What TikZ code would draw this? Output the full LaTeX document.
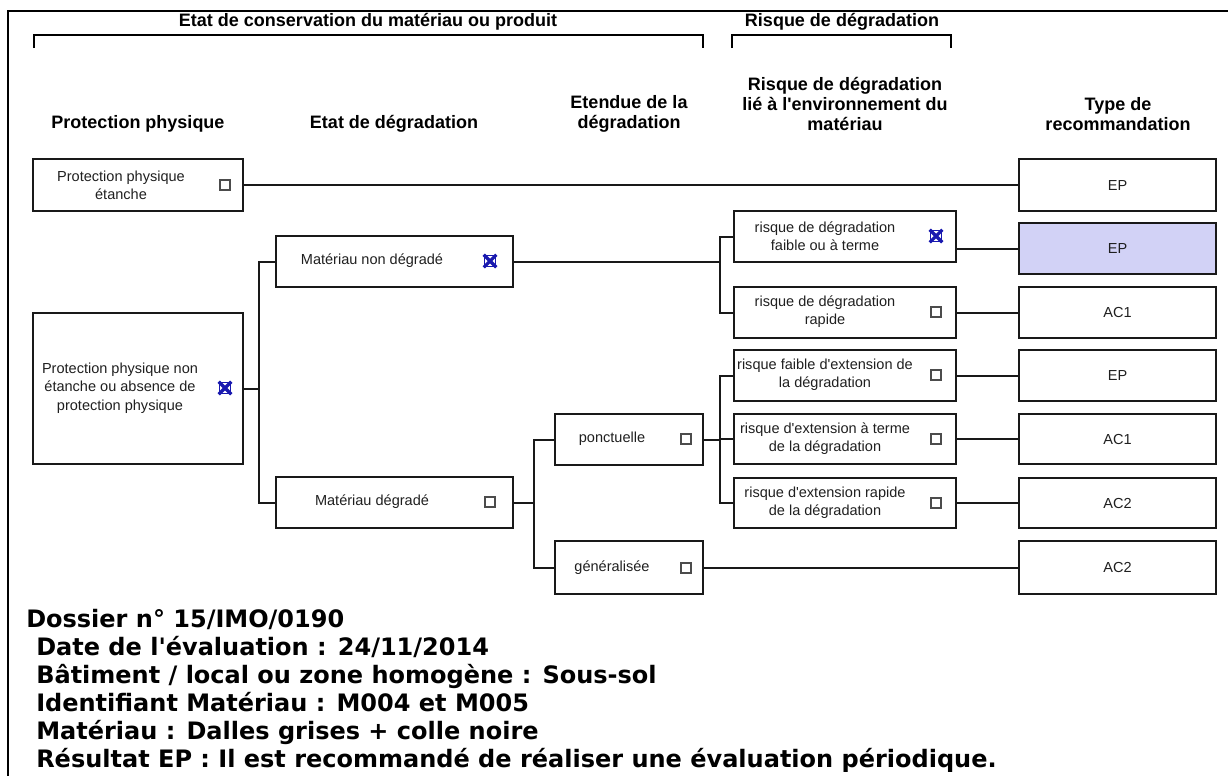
\documentclass[tikz,border=0pt]{standalone}
\usepackage{fontspec}
\setmainfont{Liberation Sans}
\newfontfamily\verdfont{DejaVu Sans}
\definecolor{epfill}{RGB}{210,210,246}
\definecolor{xblue}{RGB}{25,25,175}
\tikzset{
 px/.style={x=0.75pt,y=-0.75pt},
 box/.style={draw=black!90, line width=1.5pt, rectangle, inner sep=0pt},
 conn/.style={draw=black!90, line width=1.5pt},
 btxt/.style={inner sep=0pt, align=center, text=black!88, font=\fontsize{10.9pt}{13.7pt}\selectfont},
 hdr/.style={inner sep=0pt, align=center, font=\fontsize{13.5pt}{15pt}\selectfont\bfseries},
 cbox/.style={draw=black!70, line width=0.9pt, minimum size=7.5pt, inner sep=0pt, rectangle},
 cxbox/.style={draw=xblue, line width=1pt, minimum size=8.5pt, inner sep=0pt, rectangle},
 xmark/.style={draw=xblue, line width=2.4pt},
 foot/.style={anchor=base west, inner sep=0pt, font=\verdfont\bfseries\fontsize{18pt}{21pt}\selectfont},
 brack/.style={draw=black, line width=1.6pt},
 frame/.style={draw=black, line width=2.2pt},
}
\newcommand\mkbox[6][]{\node[box,#1,minimum width=#5*0.75pt,minimum height=#6*0.75pt] (#2) at (#3,#4) {};}
\begin{document}
\begin{tikzpicture}[px]
\useasboundingbox (0,0) rectangle (1228,776);
% frame
\coordinate (fTL) at (8,11); \coordinate (fTR) at (1228,11); \coordinate (fBL) at (8,776);
\draw[frame] (fTR) -- (fTL) -- (fBL);
% brackets
\coordinate (b1a) at (34,48); \coordinate (b1b) at (34,35); \coordinate (b1c) at (703,35); \coordinate (b1d) at (703,48);
\coordinate (b2a) at (732,48); \coordinate (b2b) at (732,35); \coordinate (b2c) at (951,35); \coordinate (b2d) at (951,48);
\draw[brack] (b1a) -- (b1b) -- (b1c) -- (b1d);
\draw[brack] (b2a) -- (b2b) -- (b2c) -- (b2d);
% headers
\node[hdr] (h1) at (368,22) {Etat de conservation du matériau ou produit};
\node[hdr] (h2) at (842,22) {Risque de dégradation};
\node[hdr] (c1h) at (138,124) {Protection physique};
\node[hdr] (c2h) at (394,124) {Etat de dégradation};
\node[hdr] (c3h) at (629,114) {Etendue de la\\dégradation};
\node[hdr] (c4h) at (845,104) {Risque de dégradation\\lié à l\textquotesingle environnement du\\matériau};
\node[hdr] (c5h) at (1118,114) {Type de\\recommandation};
% boxes
\mkbox{ppe}{138}{185}{210}{52}
\mkbox{ppne}{138}{388.5}{210}{151}
\mkbox{mnd}{394.5}{261.5}{237}{51}
\mkbox{md}{394.5}{502.5}{237}{51}
\mkbox{po}{629}{439.5}{148}{51}
\mkbox{ge}{629}{567.5}{148}{53}
\mkbox{rf}{845}{236.5}{222}{51}
\mkbox{rr}{845}{312.5}{222}{51}
\mkbox{rfe}{845}{375.5}{222}{51}
\mkbox{ret}{845}{439}{222}{50}
\mkbox{rer}{845}{503}{222}{50}
\mkbox{t1}{1117.5}{185}{197}{52}
\mkbox[fill=epfill]{t2}{1117.5}{248.5}{197}{51}
\mkbox{t3}{1117.5}{312.5}{197}{51}
\mkbox{t4}{1117.5}{375.5}{197}{51}
\mkbox{t5}{1117.5}{439}{197}{50}
\mkbox{t6}{1117.5}{503}{197}{50}
\mkbox{t7}{1117.5}{567.5}{197}{53}
% box texts
\node[btxt] (ppe-t) at (121,185) {Protection physique\\étanche};
\node[btxt] (ppne-t) at (120,388) {Protection physique non\\étanche ou absence de\\protection physique};
\node[btxt] (mnd-t) at (372,261) {Matériau non dégradé};
\node[btxt] (md-t) at (372,502) {Matériau dégradé};
\node[btxt] (po-t) at (612,439) {ponctuelle};
\node[btxt] (ge-t) at (612,568) {généralisée};
\node[btxt] (rf-t) at (825,236) {risque de dégradation\\faible ou à terme};
\node[btxt] (rr-t) at (825,312) {risque de dégradation\\rapide};
\node[btxt] (rfe-t) at (825,375) {risque faible d\textquotesingle extension de\\la dégradation};
\node[btxt] (ret-t) at (825,439) {risque d\textquotesingle extension à terme\\de la dégradation};
\node[btxt] (rer-t) at (825,503) {risque d\textquotesingle extension rapide\\de la dégradation};
\node[btxt] (t1-t) at (t1) {EP};
\node[btxt] (t2-t) at (t2) {EP};
\node[btxt] (t3-t) at (t3) {AC1};
\node[btxt] (t4-t) at (t4) {EP};
\node[btxt] (t5-t) at (t5) {AC1};
\node[btxt] (t6-t) at (t6) {AC2};
\node[btxt] (t7-t) at (t7) {AC2};
% checkboxes
\node[cbox] (ppe-c) at (225,185) {};
\node[cbox] (md-c) at (490,502) {};
\node[cbox] (po-c) at (686,439) {};
\node[cbox] (ge-c) at (686,568) {};
\node[cbox] (rr-c) at (936,312) {};
\node[cbox] (rfe-c) at (936,375) {};
\node[cbox] (ret-c) at (936,439) {};
\node[cbox] (rer-c) at (936,503) {};
\node[cxbox] (ppne-c) at (225,388) {};
\node[cxbox] (mnd-c) at (490,261) {};
\node[cxbox] (rf-c) at (936,236) {};
\foreach \c in {ppne-c,mnd-c,rf-c}{
  \draw[xmark] (\c.north west) -- (\c.south east) (\c.north east) -- (\c.south west);
}
% connectors
\coordinate (j1) at (259,0); \coordinate (j2) at (720,0); \coordinate (j3) at (534,0);
\draw[conn] (ppe.east) -- (t1.west);
\draw[conn] (ppne.east) -- (ppne.east -| j1);
\draw[conn] (mnd.west) -- (mnd.west -| j1) -- (md.west -| j1) -- (md.west);
\draw[conn] (mnd.east) -- (mnd.east -| j2);
\draw[conn] (rf.west) -- (rf.west -| j2) -- (rr.west -| j2) -- (rr.west);
\draw[conn] (rf.east |- t2.west) -- (t2.west);
\draw[conn] (rr.east) -- (t3.west);
\draw[conn] (md.east) -- (md.east -| j3);
\draw[conn] (po.west) -- (po.west -| j3) -- (ge.west -| j3) -- (ge.west);
\draw[conn] (po.east) -- (po.east -| j2);
\draw[conn] (rfe.west) -- (rfe.west -| j2) -- (rer.west -| j2) -- (rer.west);
\draw[conn] (ret.west) -- (ret.west -| j2);
\draw[conn] (rfe.east) -- (t4.west);
\draw[conn] (ret.east) -- (t5.west);
\draw[conn] (rer.east) -- (t6.west);
\draw[conn] (ge.east) -- (t7.west);
% footer
\node[foot] (f1) at (26,627) {Dossier n° 15/IMO/0190};
\node[foot] (f2) at (36,655) {Date de l\textquotesingle évaluation : 24/11/2014};
\node[foot] (f3) at (36,683) {Bâtiment / local ou zone homogène : Sous-sol};
\node[foot] (f4) at (36,711) {Identifiant Matériau : M004 et M005};
\node[foot] (f5) at (36,739) {Matériau : Dalles grises + colle noire};
\node[foot] (f6) at (36,767) {Résultat EP : Il est recommandé de réaliser une évaluation périodique.};
\end{tikzpicture}
\end{document}
